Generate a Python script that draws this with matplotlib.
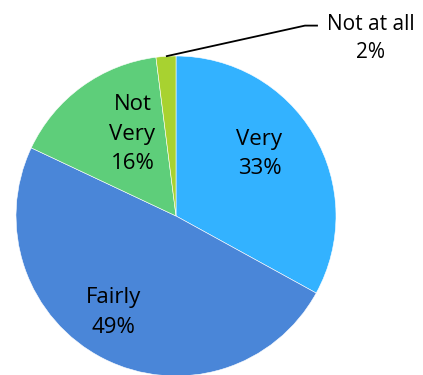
import numpy as np
import matplotlib
matplotlib.use("Agg")
import matplotlib.pyplot as plt

# Survey answers, clockwise from twelve o'clock
categories = ["Very", "Fairly", "Not\nVery", "Not at all"]
shares = [33, 49, 16, 2]
colors = ["#33B2FF", "#4A86D8", "#5ECE7A", "#A8D230"]

# how far from the centre each inside label sits (fraction of radius)
label_r = [0.65, 0.72, 0.58, None]
label_shift = [6, -6, -8, 0]  # degrees of nudge along the arc

plt.rcParams["font.family"] = ["Open Sans", "DejaVu Sans"]

fig = plt.figure(figsize=(4.23, 3.75), dpi=100)
ax = fig.add_axes([16 / 423, -1 / 375, 320 / 423, 320 / 375])

wedges, _ = ax.pie(shares, colors=colors, startangle=90, counterclock=False,
                   radius=1.0, wedgeprops=dict(edgecolor="white", linewidth=0.4))
ax.set_xlim(-1, 1)
ax.set_ylim(-1, 1)
ax.set_aspect("equal")
ax.axis("off")

for w, cat, val, r, sh in zip(wedges, categories, shares, label_r, label_shift):
    mid = np.deg2rad((w.theta1 + w.theta2) / 2 + sh)
    text = f"{cat}\n{val}%"
    if r is not None:
        ax.text(r * np.cos(mid), r * np.sin(mid), text, ha="center", va="center",
                fontsize=16, linespacing=1.55, color="black")
    else:
        # small slice: label outside with a leader line
        x0, y0 = np.cos(mid), np.sin(mid)
        ax.plot([x0, 0.806, 0.887], [y0, 1.19, 1.19], color="black", lw=1.3,
                clip_on=False, solid_capstyle="butt")
        ax.text(1.215, 1.11, text, ha="center", va="center",
                fontsize=15, linespacing=1.45, color="black")

fig.savefig("out.png", dpi=100)
